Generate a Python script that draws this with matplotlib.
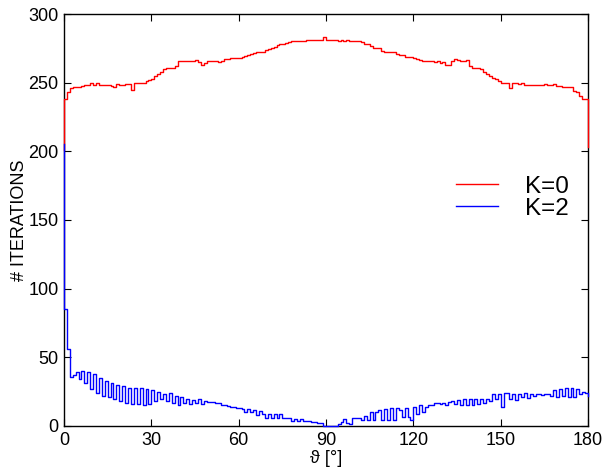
import numpy as np
import matplotlib
matplotlib.use("Agg")
import matplotlib.pyplot as plt

plt.rcParams['font.family'] = ['Liberation Sans', 'DejaVu Sans']

# bin edges in degrees (1 degree bins)
theta_edges = np.arange(0, 181)

# iterations per bin, K=0
k0_iter = [
    238, 243, 246, 247, 247, 247, 247.5, 248, 248, 249.5,
    248, 249.5, 248.5, 248, 248, 248, 247.5, 247, 249, 248,
    248, 249, 249, 245, 250, 250, 249.5, 250, 251, 252,
    253, 254.5, 256, 258, 260, 261, 261, 261, 262, 265.5,
    266, 265.5, 266, 265.5, 266, 266.5, 265, 263, 264, 265.5,
    266, 266, 265.5, 265, 266, 267, 267, 268, 268, 268,
    268, 268.5, 269.5, 270, 271, 271.5, 272, 272, 272.5, 274,
    274.5, 275, 276, 277.5, 278, 278.5, 279, 279.5, 280, 280,
    280.5, 280, 280.5, 281, 281, 281, 281, 281, 281, 283,
    281, 281, 281, 281, 280.5, 281, 280.5, 281, 280, 280.5,
    280, 280, 279.5, 278.5, 278, 277, 275.5, 275, 275, 273,
    272, 272, 272, 272, 271, 270, 270, 269, 268.5, 268.5,
    268, 267, 266.5, 265.5, 266, 266, 266, 265, 266, 264,
    265, 263, 263, 266, 267, 266.5, 266, 266, 266.5, 262,
    261, 261, 261, 260, 258, 256, 255, 253.5, 252.5, 251,
    250, 250, 250, 246, 249.5, 249.5, 249, 249.5, 248.5, 248,
    248, 248, 248, 248, 248, 249, 248.5, 248, 249, 247.5,
    247.5, 247, 247, 247, 246.5, 244, 243, 240, 238, 238,
]
k0_ends = [201, 203]

# iterations per bin, K=2
k2_iter = [
    85, 56, 36, 37, 39, 34, 40, 31, 39, 27,
    38, 24, 35, 22, 33, 21, 31, 20, 30, 18,
    29, 17, 28, 16, 28, 16, 28, 15, 27, 16,
    26, 18, 25, 20, 23, 18, 24, 17, 22, 15,
    21, 17, 20, 16, 19, 17, 19.5, 16, 18, 17.5,
    17.5, 17.5, 16.5, 16.5, 15, 15, 14.5, 14, 13.5, 13.3,
    13, 12.3, 10.5, 12.3, 10.5, 12, 8, 11, 9, 6,
    9, 5.5, 9, 6, 9, 5.5, 6, 5.5, 3.5, 5,
    3.5, 5, 3.6, 3.6, 3.6, 2.6, 2.6, 1.9, 1.9, 0.3,
    0.2, 0.2, 0.3, 0.2, 1.2, 3, 5, 2.5, 1.5, 5.5,
    6, 6, 4.5, 7, 4, 10, 4, 10.5, 12, 4,
    12.5, 4, 12.8, 4, 13, 12, 6.5, 13, 6.5, 4.3,
    14, 9, 15, 10, 14, 15.5, 15, 16.5, 17, 16,
    17, 15.5, 17.5, 18, 16, 19, 15, 20, 15, 20,
    15, 20, 16, 20, 17, 20, 18, 23, 20, 23.5,
    14, 24, 24, 20, 23, 19, 23, 21, 24, 20.5,
    23.5, 22, 23, 23, 22.5, 23, 23, 22, 26, 21,
    27, 21.5, 28, 21, 27.5, 21, 27, 23, 25, 24,
]
k2_ends = [205, 22]

x_ticks = [0, 30, 60, 90, 120, 150, 180]
y_ticks = [0, 50, 100, 150, 200, 250, 300]


def stair_xy(values, ends):
    # vertical jumps at both ends, horizontal step per bin
    x = np.concatenate([[theta_edges[0]], theta_edges])
    y = np.concatenate([[ends[0]], values, [ends[1]]])
    return x, y


fig = plt.figure(figsize=(6.05, 4.73), dpi=100)
ax = fig.add_axes([0.1058, 0.0994, 0.8661, 0.871])

x0, y0 = stair_xy(k0_iter, k0_ends)
x2, y2 = stair_xy(k2_iter, k2_ends)
ax.step(x0, y0, where='post', color='#ff0000', lw=1.0, label='K=0',
        zorder=3, clip_on=False)
ax.step(x2, y2, where='post', color='#0000ff', lw=1.0, label='K=2',
        zorder=3, clip_on=False)

ax.set_xlim(0, 180)
ax.set_ylim(0, 300)
ax.set_xticks(x_ticks)
ax.set_yticks(y_ticks)
ax.tick_params(direction='in', top=True, right=True, length=5, width=0.8,
               labelsize=13, pad=4)
for s in ax.spines.values():
    s.set_linewidth(1.0)

ax.set_xlabel('ϑ [°]', fontsize=13, labelpad=1)
ax.set_ylabel('# ITERATIONS', fontsize=13, labelpad=0)

ax.legend(loc='upper left', bbox_to_anchor=(0.748, 0.607), frameon=False,
          fontsize=17.5, handlelength=1.75, handletextpad=1.1,
          labelspacing=0.0, borderpad=0, borderaxespad=0)

fig.savefig('out.png', dpi=100)
